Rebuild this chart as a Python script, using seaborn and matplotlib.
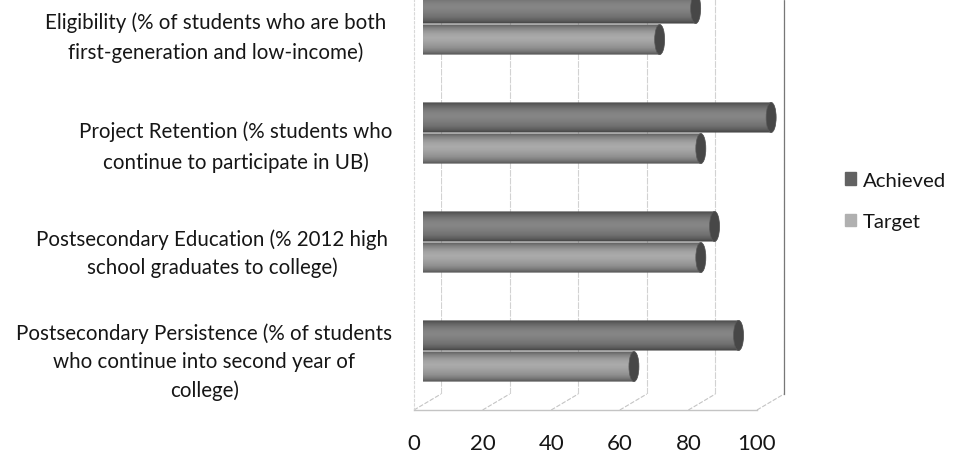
import numpy as np
import pandas as pd
import matplotlib
matplotlib.use("Agg")
import matplotlib.pyplot as plt
import seaborn as sns
from matplotlib.lines import Line2D
from matplotlib.patches import Ellipse, PathPatch, Patch
from matplotlib.path import Path
from matplotlib.transforms import IdentityTransform, ScaledTranslation

categories = [
    "Eligibility (% of students who are both\nfirst-generation and low-income)",
    "Project Retention (% students who\ncontinue to participate in UB)",
    "Postsecondary Education (% 2012 high\nschool graduates to college)",
    "Postsecondary Persistence (% of students\nwho continue into second year of\ncollege)",
]
achieved = [79.5, 101.5, 85, 92]
target = [69, 81, 81, 61.5]
x_ticks = [0, 20, 40, 60, 80, 100]

W, H = 959, 452
sns.set_theme(style="white")
plt.rcParams["font.family"] = ["Lato", "DejaVu Sans"]
TXT = "#161616"
fig = plt.figure(figsize=(W / 100, H / 100), dpi=100, facecolor="white")

def rect(x0, x1, y0, y1):
    return [x0 / W, (H - y1) / H, (x1 - x0) / W, (y1 - y0) / H]

# back wall
wall = fig.add_axes(rect(441, 784, -29.5, 395), facecolor="none", zorder=1)
wall.set_xlim(0, 100); wall.set_xticks(x_ticks); wall.set_yticks([])
wall.tick_params(length=0, labelbottom=False)
wall.grid(axis="x", color="#d2d2d2", lw=0.8, linestyle=(0, (6, 1)))
for s in ["top", "left", "bottom"]:
    wall.spines[s].set_visible(False)
wall.spines["right"].set(color="#777777", lw=0.9, linestyle=(0, (3, 1)))

# front floor and axis
floor = fig.add_axes(rect(414, 757, -29.5, 411), facecolor="none", zorder=2)
floor.set_xlim(0, 100); floor.set_ylim(411, -29.5)
floor.set_xticks(x_ticks)
floor.set_yticks([89, 197, 304, 411])
floor.tick_params(axis="x", length=7, width=0.8, color="#c4c4c4", direction="inout",
                  labelsize=16, labelcolor=TXT, pad=13)
floor.tick_params(axis="y", length=7, width=0.8, color="#777777", labelleft=False)
for s in ["top", "right"]:
    floor.spines[s].set_visible(False)
floor.spines["bottom"].set(color="#c4c4c4", lw=1.0)
floor.spines["left"].set(color="#d8d8d8", lw=0.8, linestyle=(0, (2, 2)))

for v in x_ticks:
    a = floor.transData.transform((v, 411))
    b = wall.transData.transform((v, 0))
    b[1] = H - 395
    fig.add_artist(Line2D([a[0], b[0]], [a[1], b[1]], transform=IdentityTransform(),
                          color="#c4c4c4", lw=0.8, linestyle=(0, (4, 1.5))))

# bars
X_MAX = 110
ax = fig.add_axes(rect(423, 423 + 3.43 * X_MAX, -29.5, 406.5), facecolor="none", zorder=3)
df = pd.DataFrame({
    "Category": categories * 2,
    "Value": achieved + target,
    "Series": ["Achieved"] * 4 + ["Target"] * 4,
})
palette = {"Achieved": "#767676", "Target": "#969696"}
sns.barplot(data=df, x="Value", y="Category", hue="Series", palette=palette,
            order=categories, hue_order=["Achieved", "Target"], dodge=True,
            width=0.57, gap=0.03, saturation=1, ax=ax, legend=False)
ax.set_xlim(0, X_MAX); ax.set_ylim(3.5, -0.5)
ax.set_xlabel(""); ax.set_ylabel("")
ax.set_xticks([])
for s in ax.spines.values():
    s.set_visible(False)
ax.tick_params(axis="y", length=0, labelsize=14.8, labelcolor=TXT)

# tick labels: centred blocks
centres = [220, 241, 217, 209]
shifts = [6, 5.5, 5, 4]
spacing = [1.55, 1.65, 1.47, 1.52]
for lab, c, d, sp in zip(ax.get_yticklabels(), centres, shifts, spacing):
    lab.set_ha("center")
    lab.set_multialignment("center")
    lab.set_x((c - 423) / (3.43 * X_MAX))
    lab.set_linespacing(sp)
    lab.set_transform(lab.get_transform() + ScaledTranslation(0, -d / 100, fig.dpi_scale_trans))

def shade(base):
    rgb = np.array(matplotlib.colors.to_rgb(base))
    f = np.array([0.62, 0.85, 1.0, 1.1, 1.14, 1.1, 1.03, 0.95, 0.8, 0.55])
    t = np.linspace(0, 1, 60)
    prof = np.interp(t, np.linspace(0, 1, len(f)), f)
    return np.clip(prof[:, None, None] * rgb[None, None, :], 0, 1)

bars = list(ax.patches)
cap_w = 10 / 3.43
for p in bars:
    x1 = p.get_width()
    if x1 <= 0:
        continue
    y0, h = p.get_y(), p.get_height()
    yc = y0 + h / 2
    base = matplotlib.colors.to_hex(p.get_facecolor())
    p.set_visible(False)
    th = np.linspace(np.pi / 2, 3 * np.pi / 2, 30)
    lx = cap_w / 2 * np.cos(th)
    ly = yc + h / 2 * np.sin(th)
    rx = x1 - cap_w / 2 * np.cos(th[::-1])
    ry = yc + h / 2 * np.sin(th[::-1])
    xs = np.r_[lx, rx, lx[0]]
    ys = np.r_[ly, ry, ly[0]]
    path = Path(np.c_[xs, ys])
    im = ax.imshow(shade(base), extent=(-cap_w, x1 + cap_w, y0 + h, y0), aspect="auto",
                   zorder=3, interpolation="bilinear")
    im.set_clip_path(PathPatch(path, transform=ax.transData))
    ax.add_patch(Ellipse((x1, yc), cap_w, h, facecolor="#474747", edgecolor="#5a5a5a",
                         lw=0.5, zorder=4))
ax.set_xlim(0, X_MAX); ax.set_ylim(3.5, -0.5)

# legend
handles = [Patch(color="#626262", label="Achieved"), Patch(color="#b0b0b0", label="Target")]
leg = fig.legend(handles=handles, loc="center left", bbox_to_anchor=(845 / W, (H - 202) / H),
                 frameon=False, fontsize=14.7, labelspacing=1.2, handlelength=0.54,
                 handleheight=0.54, handletextpad=0.35, labelcolor=TXT, borderpad=0,
                 borderaxespad=0)

fig.savefig("out.png", dpi=100)
